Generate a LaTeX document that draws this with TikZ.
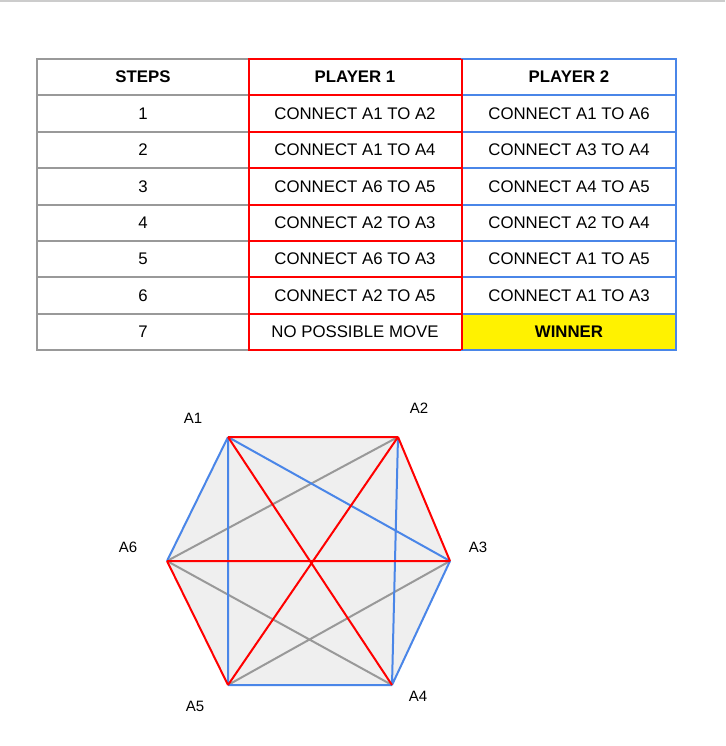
\documentclass[tikz,border=0pt]{standalone}
\usepackage{fontspec}
\setmainfont{Liberation Sans}
\definecolor{pred}{RGB}{255,0,0}
\definecolor{pblue}{RGB}{74,134,232}
\definecolor{pgray}{RGB}{153,153,153}
\definecolor{hexfill}{RGB}{239,239,239}
\begin{document}
\begin{tikzpicture}[x=1pt,y=-1pt,
  txt/.style={font=\fontsize{16.8}{19}\selectfont},
  hd/.style={font=\fontsize{16.8}{19}\selectfont\bfseries},
  lbl/.style={font=\fontsize{15}{18}\selectfont}]
\useasboundingbox[fill=white] (0,0) rectangle (725,746);
\draw[line width=1.5pt,gray!40] (0,1) -- (725,1);
% table
\foreach \c/\xa/\xb in {pgray/37/249, pred/249/462, pblue/462/676}{
  \foreach \ya/\yb in {59/95,95/132,132/168,168/205,205/241,241/277,277/314,314/350}{
    \draw[\c,line width=1.2pt] (\xa,\ya) rectangle (\xb,\yb);
  }
  \draw[\c,line width=2.5pt] (\xa,59) rectangle (\xb,350);
  \draw[\c,line width=2.5pt] (\xa,95) -- (\xb,95) (\xa,205) -- (\xb,205);
}
\fill[yellow] (463,315) rectangle (675,349);
\draw[pblue,line width=2.5pt] (462,314) rectangle (676,350);
\draw[pred,line width=2.5pt] (462,59) -- (462,350);
\node[hd] (h0) at (143,77) {STEPS};
\node[hd] (h1) at (355,77) {PLAYER 1};
\node[hd] (h2) at (569,77) {PLAYER 2};
\foreach \i/\y/\a/\b in {1/113.5/CONNECT A1 TO A2/CONNECT A1 TO A6,
 2/150/CONNECT A1 TO A4/CONNECT A3 TO A4,
 3/186.5/CONNECT A6 TO A5/CONNECT A4 TO A5,
 4/223/CONNECT A2 TO A3/CONNECT A2 TO A4,
 5/259/CONNECT A6 TO A3/CONNECT A1 TO A5,
 6/295.5/CONNECT A2 TO A5/CONNECT A1 TO A3}{
  \node[txt] (s\i) at (143,\y) {\i};
  \node[txt] (p\i) at (355,\y) {\a};
  \node[txt] (q\i) at (569,\y) {\b};
}
\node[txt] (s7) at (143,332) {7};
\node[txt] (p7) at (355,332) {NO POSSIBLE MOVE};
\node[hd] (q7) at (569,332) {WINNER};
% hexagon
\coordinate (A1) at (228,437);
\coordinate (A2) at (398,437);
\coordinate (A3) at (450,561);
\coordinate (A4) at (392,685);
\coordinate (A5) at (228,685);
\coordinate (A6) at (167,561);
\fill[hexfill] (A1)--(A2)--(A3)--(A4)--(A5)--(A6)--cycle;
\begin{scope}[line width=2pt]
\draw[pgray] (A2)--(A6) (A3)--(A5) (A4)--(A6);
\draw[pblue] (A1)--(A6) (A3)--(A4) (A4)--(A5) (A2)--(A4) (A1)--(A5) (A1)--(A3);
\draw[pred] (A1)--(A2) (A1)--(A4) (A6)--(A5) (A2)--(A3) (A6)--(A3) (A2)--(A5);
\end{scope}
\node[lbl] (l1) at (193,418) {A1};
\node[lbl] (l2) at (419,408) {A2};
\node[lbl] (l3) at (478,547) {A3};
\node[lbl] (l4) at (418,696) {A4};
\node[lbl] (l5) at (195,706) {A5};
\node[lbl] (l6) at (128,547) {A6};
\end{tikzpicture}
\end{document}
